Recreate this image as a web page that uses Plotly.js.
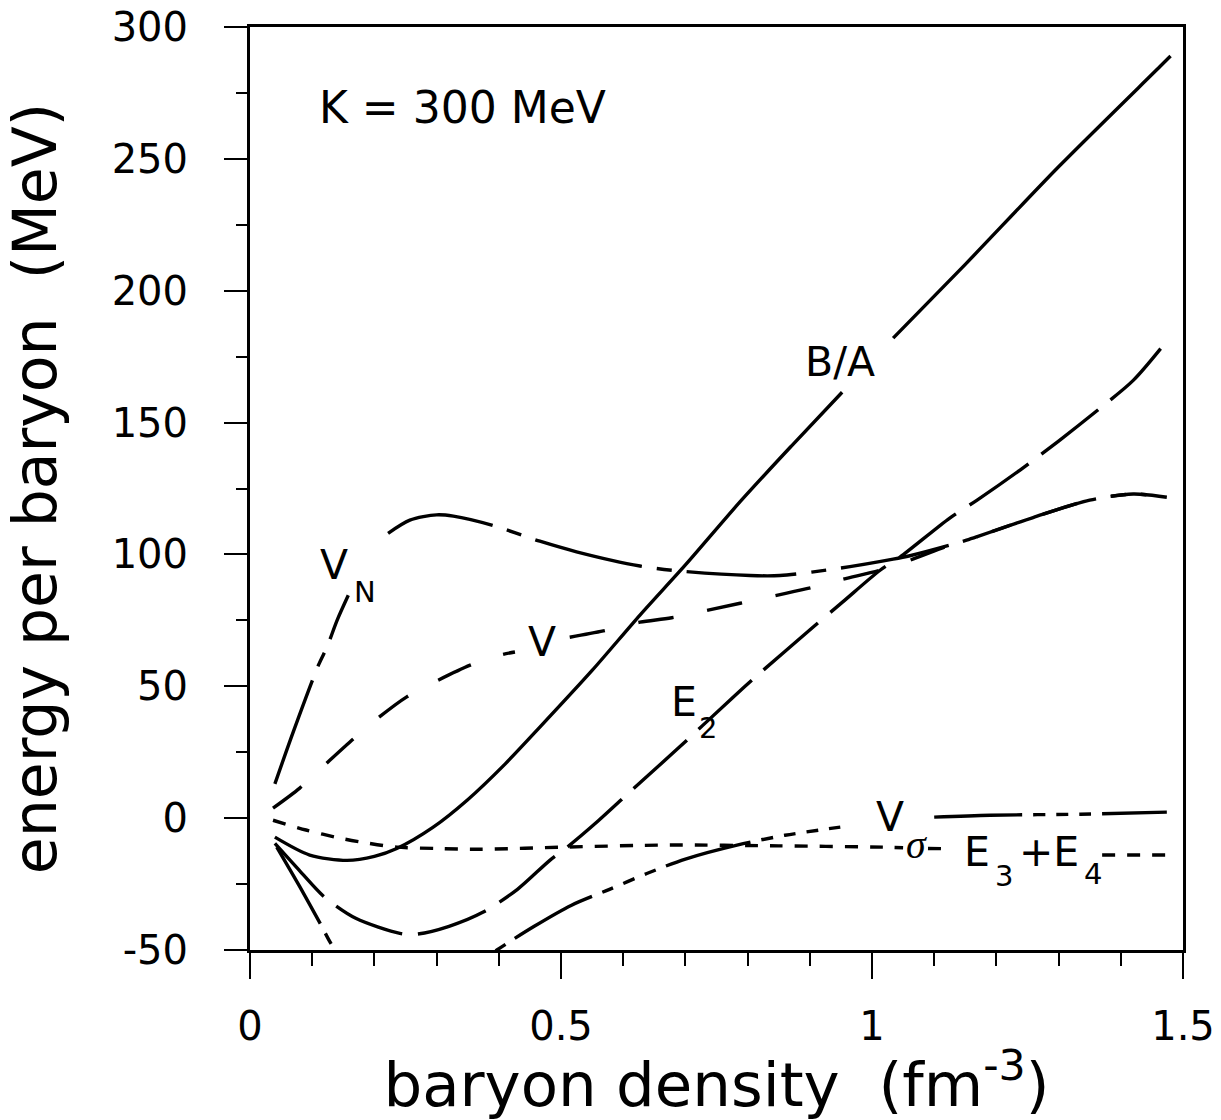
<!DOCTYPE html>
<html>
<head>
<meta charset="utf-8">
<script src="https://cdn.plot.ly/plotly-3.0.1.min.js"></script>
<style>html,body{margin:0;padding:0;background:#fff;}</style>
</head>
<body>
<div id="chart" style="width:1221px;height:1120px;"></div>
<script>
// ---- data (baryon density in fm^-3, energy in MeV) ----
var baX = [0.04, 0.096, 0.156, 0.20, 0.236, 0.294, 0.35, 0.41, 0.466, 0.55, 0.627, 0.70, 0.788, 0.87, 0.952, null, 1.034, 1.15, 1.30, 1.463, 1.48];
var baY = [-7.2, -14, -16, -14.5, -11.5, -3.5, 7, 20.5, 34.5, 56, 77, 96, 120, 141, 161.5, null, 182, 210, 247, 285, 289];

var e2X = [0.04, 0.08, 0.12, 0.17, 0.241, 0.268, 0.32, 0.375, 0.43, 0.482, 0.51, 0.56, 0.611, 0.686, 0.775, 0.815, 0.905, 0.953, 1.013, 1.045, 1.125, 1.169, 1.238, 1.30, 1.367, 1.42, 1.466];
var e2Y = [-9.6, -20, -30, -38, -43.7, -44, -41, -35.6, -27, -16, -11, -1, 10, 26, 45.5, 54, 72.4, 82, 94, 99, 113.8, 120.6, 132, 143, 155.5, 166, 178.6];

var vX = [0.037, 0.08, 0.124, 0.166, 0.206, 0.252, 0.30, 0.354, 0.405, 0.426, null, 0.514, 0.568, 0.627, 0.678, 0.788, 0.895, 0.953, 1.013, 1.061, 1.125, 1.152, 1.259, 1.35, 1.42, 1.474];
var vY = [3.8, 11.4, 21, 30, 38, 46, 52, 58, 62, 63, null, 68.6, 71, 74.3, 76, 81.5, 87, 90.6, 94, 97.8, 103.5, 105.4, 114, 120.6, 122.9, 121.7];

var vnX = [0.04, 0.07, 0.11, 0.124, 0.14, 0.158, null, 0.222, 0.257, 0.30, 0.327, 0.39, 0.466, 0.525, 0.627, 0.691, 0.804, 0.852, 0.949, 1.034, 1.061, 1.125, 1.152, 1.259, 1.35, 1.42, 1.474];
var vnY = [13, 33, 58, 65, 75, 84.5, null, 108, 113, 115, 114.5, 111, 105, 101, 95.6, 93.7, 92, 92, 94.8, 98.2, 99.5, 103.5, 105.4, 114, 120.6, 122.9, 121.7];

var vsX = [0.043, 0.08, 0.113, 0.13, 0.16, 0.20, 0.26, 0.32, 0.397, 0.457, 0.517, 0.578, 0.638, 0.70, 0.783, 0.86, 0.949, null, 1.10, 1.19, 1.335, 1.474];
var vsY = [-11, -26, -40, -47.5, -58, -66, -69, -63, -50, -41, -33, -27, -21, -15.5, -10.2, -6.5, -3.4, null, 0.4, 1.1, 1.5, 2.3];

var e34X = [0.037, 0.09, 0.145, 0.19, 0.236, 0.30, 0.37, 0.50, 0.675, 0.85, 1.018, 1.05, null, 1.09, 1.125, null, 1.37, 1.48];
var e34Y = [-0.8, -4.5, -7.6, -9.5, -11, -11.5, -11.8, -11, -10.2, -10.5, -11, -11.2, null, -11.5, -11.6, null, -14, -14];

var xTickVals = [0, 0.5, 1, 1.5];
var xTickText = ['0', '0.5', '1', '1.5'];
var yTickVals = [-50, 0, 50, 100, 150, 200, 250, 300];
var yTickText = ['-50', '0', '50', '100', '150', '200', '250', '300'];

// ---- styling ----
var FONT = 'DejaVu Sans, Arial, sans-serif';
function line(x, y, name, dash) {
  return {x: x, y: y, name: name, type: 'scatter', mode: 'lines', connectgaps: false,
          line: {color: '#000', width: 3.4, dash: dash, shape: 'spline', smoothing: 0.8},
          hoverinfo: 'x+y+name'};
}
var traces = [
  line(baX, baY, 'B/A', 'solid'),
  line(e2X, e2Y, 'E2', '72px,16px'),
  line(vX, vY, 'V', '36px,34px'),
  line(vnX, vnY, 'V_N', '110px,15px,15px,15px'),
  line(vsX, vsY, 'V_sigma', '88px,11px,12px,11px,12px,11px,12px,11px'),
  line(e34X, e34Y, 'E3+E4', '13px,12px')
];

function lab(text, x, y, size, extra) {
  var a = {text: text, x: x, y: y, xref: 'x', yref: 'y', showarrow: false,
           xanchor: 'center', yanchor: 'middle', font: {family: FONT, size: size, color: '#000'}};
  if (extra) { for (var k in extra) a.font[k] = extra[k]; }
  return a;
}
var annotations = [
  lab('K = 300 MeV', 0.342, 269.6, 44),
  lab('B/A', 0.949, 173, 41),
  lab('V', 0.135, 96, 41),
  lab('N', 0.185, 85.7, 29),
  lab('V', 0.469, 66.7, 41),
  lab('E', 0.698, 44, 41),
  lab('2', 0.737, 34, 29),
  lab('V', 1.029, 0.4, 41),
  lab('σ', 1.071, -10, 40, {family: 'Liberation Serif, serif', style: 'italic'}),
  lab('E', 1.169, -12.9, 41),
  lab('3', 1.212, -22, 29),
  lab('+E', 1.285, -12.7, 41),
  lab('4', 1.355, -21, 29)
];

var layout = {
  width: 1221, height: 1120,
  margin: {l: 250, r: 38, t: 27, b: 170},
  paper_bgcolor: '#fff', plot_bgcolor: '#fff',
  showlegend: false,
  font: {family: FONT, color: '#000'},
  xaxis: {
    range: [0, 1.5], tickmode: 'array', tickvals: xTickVals, ticktext: xTickText,
    ticks: 'outside', ticklen: 26, tickwidth: 2, tickcolor: '#000',
    showline: true, linewidth: 3, linecolor: '#000', mirror: true,
    showgrid: false, zeroline: false,
    tickfont: {family: FONT, size: 40, color: '#000'},
    ticklabelstandoff: 13,
    minor: {dtick: 0.1, ticks: 'outside', ticklen: 13, tickwidth: 2, tickcolor: '#000', showgrid: false},
    title: {text: 'baryon density\u00a0\u00a0(fm<sup>-3</sup>)', font: {family: FONT, size: 61, color: '#000'}, standoff: 4}
  },
  yaxis: {
    range: [-50, 300], tickmode: 'array', tickvals: yTickVals, ticktext: yTickText,
    ticks: 'outside', ticklen: 23, tickwidth: 2, tickcolor: '#000',
    showline: true, linewidth: 3, linecolor: '#000', mirror: true,
    showgrid: false, zeroline: false,
    tickfont: {family: FONT, size: 40, color: '#000'},
    ticklabelstandoff: 28,
    minor: {dtick: 25, ticks: 'outside', ticklen: 11, tickwidth: 2, tickcolor: '#000', showgrid: false},
    title: {text: 'energy per baryon\u00a0\u00a0(MeV)', font: {family: FONT, size: 60, color: '#000'}, standoff: 40}
  },
  annotations: annotations
};

Plotly.newPlot('chart', traces, layout, {displayModeBar: false});
</script>
</body>
</html>
